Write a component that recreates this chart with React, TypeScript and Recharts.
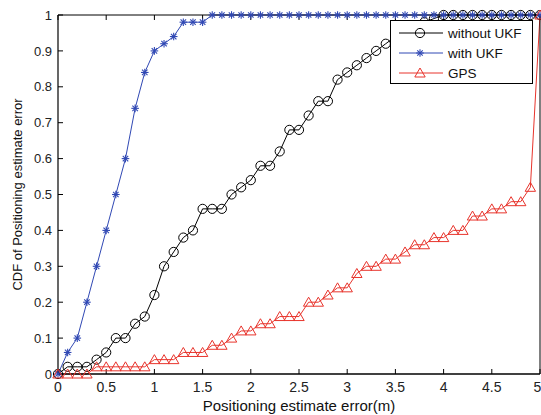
import { LineChart, Line, XAxis, YAxis, Legend } from "recharts";

const errX = [
  0, 0.1, 0.2, 0.3, 0.4, 0.5, 0.6, 0.7, 0.8, 0.9,
  1, 1.1, 1.2, 1.3, 1.4, 1.5, 1.6, 1.7, 1.8, 1.9,
  2, 2.1, 2.2, 2.3, 2.4, 2.5, 2.6, 2.7, 2.8, 2.9,
  3, 3.1, 3.2, 3.3, 3.4, 3.5, 3.6, 3.7, 3.8, 3.9,
  4, 4.1, 4.2, 4.3, 4.4, 4.5, 4.6, 4.7, 4.8, 4.9, 5,
];

const withoutUkf = [
  0, 0.02, 0.02, 0.02, 0.04, 0.06, 0.1, 0.1, 0.14, 0.16,
  0.22, 0.3, 0.34, 0.38, 0.4, 0.46, 0.46, 0.46, 0.5, 0.52,
  0.54, 0.58, 0.58, 0.62, 0.68, 0.68, 0.72, 0.76, 0.76, 0.82,
  0.84, 0.86, 0.88, 0.9, 0.92, 0.94, 0.96, 0.97, 0.98, 0.99,
  1, 1, 1, 1, 1, 1, 1, 1, 1, 1, 1,
];

const withUkf = [
  0, 0.06, 0.1, 0.2, 0.3, 0.4, 0.5, 0.6, 0.74, 0.84,
  0.9, 0.92, 0.94, 0.98, 0.98, 0.98, 1, 1, 1, 1,
  1, 1, 1, 1, 1, 1, 1, 1, 1, 1,
  1, 1, 1, 1, 1, 1, 1, 1, 1, 1,
  1, 1, 1, 1, 1, 1, 1, 1, 1, 1, 1,
];

const gps = [
  0, 0, 0, 0, 0.02, 0.02, 0.02, 0.02, 0.02, 0.02,
  0.04, 0.04, 0.04, 0.06, 0.06, 0.06, 0.08, 0.08, 0.1, 0.12,
  0.12, 0.14, 0.14, 0.16, 0.16, 0.16, 0.2, 0.2, 0.22, 0.24,
  0.24, 0.28, 0.3, 0.3, 0.32, 0.32, 0.34, 0.36, 0.36, 0.38,
  0.38, 0.4, 0.4, 0.44, 0.44, 0.46, 0.46, 0.48, 0.48, 0.52, 1,
];

const xTicks = [0, 0.5, 1, 1.5, 2, 2.5, 3, 3.5, 4, 4.5, 5];
const yTicks = [0, 0.1, 0.2, 0.3, 0.4, 0.5, 0.6, 0.7, 0.8, 0.9, 1];

const BLACK = "#000000";
const BLUE = "#3048b4";
const RED = "#e8342c";
const FONT = "'Liberation Sans', Arial, sans-serif";

const data = errX.map((x, i) => ({
  x,
  without: withoutUkf[i],
  with: withUkf[i],
  gps: gps[i],
}));

function circleMark(cx: number, cy: number, key?: any) {
  return <circle key={key} cx={cx} cy={cy} r={4.6} fill="none" stroke={BLACK} strokeWidth={1} />;
}

function starMark(cx: number, cy: number, key?: any) {
  const s = 3.8;
  const d = s * 0.72;
  return (
    <g key={key} stroke={BLUE} strokeWidth={1.1}>
      <line x1={cx - s} y1={cy} x2={cx + s} y2={cy} />
      <line x1={cx} y1={cy - s} x2={cx} y2={cy + s} />
      <line x1={cx - d} y1={cy - d} x2={cx + d} y2={cy + d} />
      <line x1={cx - d} y1={cy + d} x2={cx + d} y2={cy - d} />
    </g>
  );
}

function triMark(cx: number, cy: number, key?: any) {
  const w = 5.2;
  const h = 5;
  return (
    <path
      key={key}
      d={`M${cx},${cy - h} L${cx + w},${cy + h - 1} L${cx - w},${cy + h - 1} Z`}
      fill="none"
      stroke={RED}
      strokeWidth={1}
    />
  );
}

const legendItems = [
  { label: "without UKF", color: BLACK, mark: circleMark },
  { label: "with UKF", color: BLUE, mark: starMark },
  { label: "GPS", color: RED, mark: triMark },
];

function LegendBox() {
  return (
    <svg width={143} height={64} style={{ display: "block" }}>
      <rect x={0.5} y={0.5} width={142} height={63} fill="#fff" stroke="#000" strokeWidth={1} />
      {legendItems.map((it, i) => {
        const cy = 13 + i * 20;
        return (
          <g key={it.label}>
            <line x1={9} y1={cy} x2={53} y2={cy} stroke={it.color} strokeWidth={1} />
            {it.mark(30, cy)}
            <text x={58} y={cy + 5} fontSize={13.5} fontFamily={FONT} fill="#111">
              {it.label}
            </text>
          </g>
        );
      })}
    </svg>
  );
}

const xTickStyle = { fontSize: 14, fill: "#222", fontFamily: FONT };
const yTickStyle = { fontSize: 13, fill: "#222", fontFamily: FONT };

export default function App() {
  return (
    <div style={{ position: "absolute", left: 0, top: 0, background: "#fff" }}>
      <LineChart width={541} height={415} data={data} margin={{ top: 0, right: 0, bottom: 0, left: 0 }}>
        <XAxis
          dataKey="x"
          type="number"
          domain={[0, 5]}
          ticks={xTicks}
          height={41}
          tickSize={-5}
          tickMargin={13}
          tick={xTickStyle}
          axisLine={{ stroke: "#000", strokeWidth: 1.4 }}
          tickLine={{ stroke: "#000" }}
          label={{ value: "Positioning estimate error(m)", position: "insideBottom", offset: 4, fontSize: 15, fill: "#111", fontFamily: FONT }}
        />
        <XAxis
          xAxisId="top"
          orientation="top"
          dataKey="x"
          type="number"
          domain={[0, 5]}
          ticks={xTicks}
          height={15}
          tickSize={-5}
          tickFormatter={() => ""}
          axisLine={{ stroke: "#000" }}
          tickLine={{ stroke: "#000" }}
        />
        <YAxis
          type="number"
          domain={[0, 1]}
          ticks={yTicks}
          width={58}
          tickSize={-5}
          tickMargin={11}
          tick={yTickStyle}
          axisLine={{ stroke: "#000", strokeWidth: 1.2 }}
          tickLine={{ stroke: "#000" }}
          label={{ value: "CDF of Positioning estimate error", angle: -90, position: "center", dx: -12, fontSize: 13, fill: "#111", fontFamily: FONT }}
        />
        <YAxis
          yAxisId="right"
          orientation="right"
          type="number"
          domain={[0, 1]}
          ticks={yTicks}
          width={1}
          tickSize={-5}
          tickFormatter={() => ""}
          axisLine={{ stroke: "#000" }}
          tickLine={{ stroke: "#000" }}
        />
        <Line
          dataKey="without"
          stroke={BLACK}
          strokeWidth={1}
          isAnimationActive={false}
          dot={(p: any) => circleMark(p.cx, p.cy, p.index)}
        />
        <Line
          dataKey="with"
          stroke={BLUE}
          strokeWidth={1}
          isAnimationActive={false}
          dot={(p: any) => starMark(p.cx, p.cy, p.index)}
        />
        <Line
          dataKey="gps"
          stroke={RED}
          strokeWidth={1}
          isAnimationActive={false}
          dot={(p: any) => triMark(p.cx, p.cy, p.index)}
        />
        <Legend
          layout="vertical"
          align="center"
          verticalAlign="middle"
          wrapperStyle={{ left: 390, top: 20, width: 143, height: 64 }}
          content={() => <LegendBox />}
        />
      </LineChart>
    </div>
  );
}
